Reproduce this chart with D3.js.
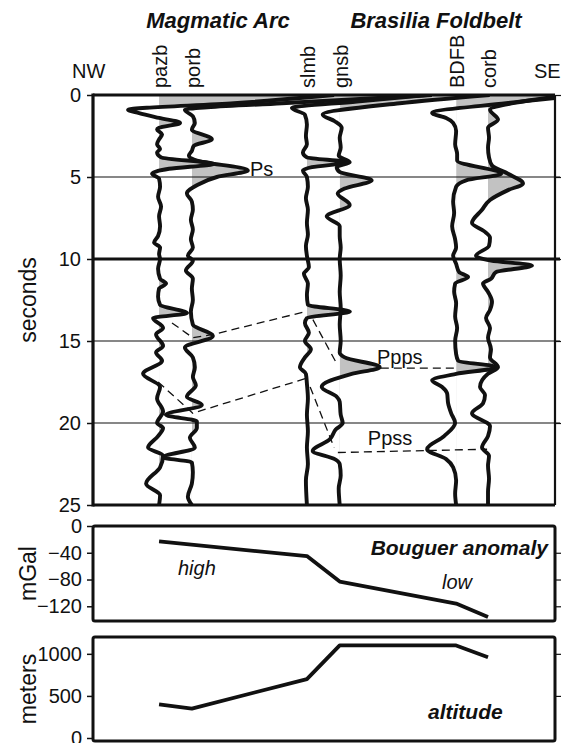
<!DOCTYPE html>
<html>
<head>
<meta charset="utf-8">
<script src="https://cdn.jsdelivr.net/npm/d3@7"></script>
<style>
  body { margin: 0; background: #fff; }
  svg { display: block; font-family: "Liberation Sans", Arial, Helvetica, sans-serif; }
</style>
</head>
<body>
<svg id="chart" width="567" height="743"></svg>
<script>
// ---- stations along the NW-SE profile ----
const stations = ["pazb", "porb", "slmb", "gnsb", "BDFB", "corb"];
const stationPos = [14.3, 21.4, 46.3, 53.4, 78.6, 85.5];   // position along profile (0-100)

// ---- receiver-function traces: [time (s), amplitude] ----
const pazbTrace = [
  [0,175],[0.5,75],[0.9,-31],[1.1,-20],[1.4,0],[1.7,21],[2.0,0],[2.1,-2],[2.4,3],[2.7,0],
  [3.0,-2],[3.3,1],[3.5,-2],[3.8,2],[4.2,55],[4.5,10],[4.8,-7],[5.1,0],[5.6,1],[6.2,-1],
  [6.8,2],[7.4,0],[8.0,1],[8.6,-1],[9.0,-5],[9.3,1],[9.7,0],[10.0,1],[10.6,-1],[11.2,1],
  [11.5,7],[11.8,0],[12.3,-1],[12.8,1],[13.3,28],[13.6,-6],[14.2,4],[14.6,-3],[15.3,4],[15.7,-3],
  [16.2,3],[17.0,-16],[17.8,1],[18.5,-2],[19.3,4],[20.0,-2],[20.3,4],[20.8,-1],[21.5,-11],[22.0,4],
  [22.7,1],[23.7,-13],[24.4,1],[25,0]
];
const porbTrace = [
  [0,240],[0.5,90],[0.9,-7],[1.3,1],[1.7,3],[2.1,0],[2.7,20],[3.1,2],[3.4,0],[3.7,-3],
  [4.0,5],[4.6,56],[5.0,25],[5.5,5],[6.0,-5],[6.5,0],[7.0,1],[7.6,-1],[8.2,1],[8.8,-1],
  [9.3,1],[9.8,-4],[10.1,1],[10.7,-6],[11.2,1],[11.8,0],[12.5,1],[13.2,-1],[14.0,1],[14.7,21],
  [15.4,-7],[16.0,1],[16.6,3],[17.2,1],[17.7,4],[18.4,-5],[18.9,10],[19.5,-26],[19.9,5],[20.3,5],
  [20.9,-2],[21.5,3],[22.1,-29],[22.4,0],[23.0,1],[23.7,0],[24.5,-4],[25,0]
];
const slmbTrace = [
  [0,120],[0.4,50],[0.8,-15],[1.2,-2],[1.8,0],[2.5,-1],[3.0,0],[3.5,-4],[3.8,0],[4.1,41],
  [4.4,5],[4.6,-4],[5.0,0],[5.6,1],[6.3,-1],[7.0,1],[7.8,0],[8.5,1],[9.2,-1],[9.8,0],
  [10.5,2],[10.9,-3],[11.5,1],[12.2,0],[12.8,1],[13.2,43],[13.6,0],[13.9,-2],[14.5,2],[15.0,-2],
  [15.5,4],[16.0,-2],[16.6,-7],[17.0,-1],[17.6,0],[18.5,1],[19.5,0],[20.5,1],[21.5,0],[22.5,1],
  [23.5,-1],[25,0]
];
const gnsbTrace = [
  [0,150],[0.5,60],[1.2,-17],[1.6,-5],[2.0,2],[2.6,0],[3.2,1],[3.7,-1],[4.1,10],[4.4,-3],
  [4.7,0],[5.2,32],[5.7,5],[6.0,-2],[6.7,10],[7.4,-13],[8.0,0],[8.6,0],[9.3,1],[10.0,0],
  [11.0,1],[12.0,0],[13.0,1],[14.0,0],[15.0,1],[15.7,0],[16.0,5],[16.6,40],[17.0,12],[17.8,-18],
  [18.4,-3],[18.7,0],[19.5,1],[20.0,3],[20.4,-4],[21.0,-10],[21.7,-27],[22.2,-5],[22.5,0],[23.2,1],
  [24.0,-1],[25,0]
];
const bdfbTrace = [
  [0,130],[0.5,50],[1.1,-24],[1.4,-10],[1.7,-3],[2.2,0],[3.0,-1],[3.6,1],[4.0,1],[4.8,45],
  [5.2,10],[5.6,0],[6.5,-3],[7.2,-2],[8.0,-4],[8.8,-1],[9.3,0],[9.8,-3],[10.3,0],[10.8,3],
  [11.1,12],[11.5,-1],[12.0,-2],[12.7,0],[13.5,-1],[14.2,1],[15.0,-1],[15.8,0],[16.2,2],[16.6,41],
  [17.0,0],[17.4,-24],[17.8,-14],[18.2,-9],[18.8,-8],[19.4,-5],[20.0,-1],[20.8,-12],[21.6,-29],[22.2,-10],
  [22.7,-3],[23.5,0],[24.3,-1],[25,0]
];
const corbTrace = [
  [0,80],[0.5,25],[0.9,2],[1.5,10],[2.0,0],[2.6,1],[3.2,0],[3.8,1],[4.3,4],[4.8,20],
  [5.4,35],[5.8,20],[6.4,2],[7.0,-6],[7.8,-16],[8.3,-4],[8.7,2],[9.2,1],[9.8,-12],[10.1,3],
  [10.4,44],[10.8,8],[11.2,3],[11.5,-5],[12.0,0],[12.6,4],[13.1,2],[13.6,-2],[14.2,2],[14.8,0],
  [15.5,3],[16.0,2],[16.6,10],[17.0,0],[17.8,-8],[18.3,-3],[18.8,-5],[19.4,-16],[20.2,2],[20.8,0],
  [21.5,-6],[22.0,1],[22.6,0],[23.4,1],[24.2,0],[25,0]
];
const traces = [pazbTrace, porbTrace, slmbTrace, gnsbTrace, bdfbTrace, corbTrace];

// ---- phase correlation lines: [profile position, time (s)] ----
const phaseLinePs1 = [[17.1,13.9],[21.6,14.8],[26.0,14.6],[46.1,13.2]];
const phaseLinePs2 = [[47.6,13.7],[52.6,16.3]];
const phaseLinePpps = [[62.3,16.65],[78.6,16.65]];
const phaseLineB1 = [[14.1,17.5],[21.6,19.4],[45.9,17.3]];
const phaseLineB2 = [[47.0,17.8],[52.2,21.5]];
const phaseLinePpss = [[53.0,21.8],[85.3,21.6]];
const phaseLines = [phaseLinePs1, phaseLinePs2, phaseLinePpps, phaseLineB1, phaseLineB2, phaseLinePpss];

const phaseLabels = ["Ps", "Ppps", "Ppss"];
const phaseLabelPos = [[36.5, 4.5], [66.4, 16.0], [64.3, 20.9]];

// ---- axes ----
const timeTicks = [0, 5, 10, 15, 20, 25];
const gridTimes = [5, 10, 15, 20];

// ---- gravity and topography along the same stations ----
const bouguerValues = [-23, null, -45, -83, -116, -136];
const bouguerTicks = [0, -40, -80, -120];
const altitudeValues = [400, 350, 700, 1100, 1100, 960];
const altitudeTicks = [0, 500, 1000];

// =====================================================================
const svg = d3.select("#chart");
const L = 93, R = 555, T = 95, B = 505;
const INK = "#111";

const x = d3.scaleLinear().domain([0, 100]).range([L, R]);
const amp = d3.scaleLinear().domain([-100, 100]).range([-100, 100]);
const yT = d3.scaleLinear().domain([0, 25]).range([T, B]);

const defs = svg.append("defs");
defs.append("clipPath").attr("id", "frame")
  .append("rect").attr("x", L).attr("y", T).attr("width", R - L).attr("height", B - T);

stations.forEach((s, i) => {
  defs.append("clipPath").attr("id", "pos-" + s)
    .append("rect").attr("x", x(stationPos[i])).attr("y", T)
    .attr("width", R - x(stationPos[i])).attr("height", B - T);
});

const plot = svg.append("g").attr("clip-path", "url(#frame)");

// positive lobes shaded grey
stations.forEach((s, i) => {
  const base = x(stationPos[i]);
  const area = d3.area()
    .y(d => yT(d[0]))
    .x0(base)
    .x1(d => base + amp(d[1]))
    .curve(d3.curveMonotoneY);
  plot.append("path")
    .attr("clip-path", "url(#pos-" + s + ")")
    .attr("d", area(traces[i]))
    .attr("fill", "#c2c2c2");
});

// time grid
gridTimes.forEach(t => {
  svg.append("line")
    .attr("x1", L).attr("x2", R + 5)
    .attr("y1", yT(t)).attr("y2", yT(t))
    .attr("stroke", INK)
    .attr("stroke-width", t === 10 ? 3 : 1.2);
});

// phase correlation lines
const dashLine = d3.line().x(d => x(d[0])).y(d => yT(d[1]));
phaseLines.forEach(pl => {
  plot.append("path").attr("d", dashLine(pl))
    .attr("fill", "none").attr("stroke", INK)
    .attr("stroke-width", 1.3).attr("stroke-dasharray", "8,5");
});

// traces
stations.forEach((s, i) => {
  const base = x(stationPos[i]);
  const line = d3.line()
    .y(d => yT(d[0]))
    .x(d => base + amp(d[1]))
    .curve(d3.curveMonotoneY);
  plot.append("path")
    .attr("d", line(traces[i]))
    .attr("fill", "none").attr("stroke", INK)
    .attr("stroke-width", 3.9).attr("stroke-linejoin", "round");
});

// frame
svg.append("line").attr("x1", L).attr("x2", L).attr("y1", T - 1.5).attr("y2", B + 1.5)
  .attr("stroke", INK).attr("stroke-width", 3.2);
svg.append("line").attr("x1", R).attr("x2", R).attr("y1", T).attr("y2", B)
  .attr("stroke", INK).attr("stroke-width", 2.2);
svg.append("line").attr("x1", L).attr("x2", R).attr("y1", T).attr("y2", T)
  .attr("stroke", INK).attr("stroke-width", 3);
svg.append("line").attr("x1", L).attr("x2", R).attr("y1", B).attr("y2", B)
  .attr("stroke", INK).attr("stroke-width", 3);

const leftAxis = d3.axisLeft(yT).tickValues(timeTicks).tickSize(6).tickPadding(6).tickFormat(d3.format("d"));
const ga = svg.append("g").attr("transform", `translate(${L},0)`).call(leftAxis);
ga.select(".domain").remove();
ga.selectAll(".tick line").attr("stroke", INK).attr("stroke-width", 1.5);
ga.selectAll(".tick text").attr("font-size", 20).attr("fill", INK)
  .attr("font-family", "Liberation Sans, Arial, sans-serif");

const rightAxis = d3.axisRight(yT).tickValues(timeTicks.slice(0, 5)).tickSize(6).tickFormat("");
const gr = svg.append("g").attr("transform", `translate(${R},0)`).call(rightAxis);
gr.select(".domain").remove();
gr.selectAll(".tick line").attr("stroke", INK).attr("stroke-width", 1.2);

// labels
svg.append("text").attr("x", 218).attr("y", 28).attr("text-anchor", "middle")
  .attr("font-size", 22).attr("font-weight", "bold").attr("font-style", "italic")
  .attr("fill", INK).text("Magmatic Arc");
svg.append("text").attr("x", 436).attr("y", 28).attr("text-anchor", "middle")
  .attr("font-size", 22).attr("font-weight", "bold").attr("font-style", "italic")
  .attr("fill", INK).text("Brasilia Foldbelt");
svg.append("text").attr("x", 72).attr("y", 78).attr("font-size", 20).attr("fill", INK).text("NW");
svg.append("text").attr("x", 534).attr("y", 78).attr("font-size", 20).attr("fill", INK).text("SE");

stations.forEach((s, i) => {
  const cx = x(stationPos[i]) + 1;
  svg.append("text")
    .attr("transform", `translate(${cx},88) rotate(-90)`)
    .attr("dy", "0.35em")
    .attr("font-size", 20).attr("fill", INK).text(s);
});

phaseLabels.forEach((p, i) => {
  svg.append("text")
    .attr("x", x(phaseLabelPos[i][0])).attr("y", yT(phaseLabelPos[i][1]))
    .attr("text-anchor", "middle").attr("dy", "0.35em")
    .attr("font-size", 20).attr("fill", INK).text(p);
});

svg.append("text").attr("transform", `translate(28,${(T + B) / 2}) rotate(-90)`)
  .attr("text-anchor", "middle").attr("dy", "0.35em")
  .attr("font-size", 23).attr("fill", INK).text("seconds");

// ---- Bouguer anomaly panel ----
const P1T = 526, P1B = 621;
const yB = d3.scaleLinear().domain([-142, 0]).range([P1B, P1T]);
svg.append("rect").attr("x", L).attr("y", P1T).attr("width", R - L).attr("height", P1B - P1T)
  .attr("rx", 2).attr("fill", "none").attr("stroke", INK).attr("stroke-width", 3);
const gB = svg.append("g").attr("transform", `translate(${L},0)`)
  .call(d3.axisLeft(yB).tickValues(bouguerTicks).tickSize(6).tickPadding(5).tickFormat(d3.format("d")));
gB.select(".domain").remove();
gB.selectAll(".tick line").attr("stroke", INK).attr("stroke-width", 1.5);
gB.selectAll(".tick text").attr("font-size", 20).attr("fill", INK)
  .attr("font-family", "Liberation Sans, Arial, sans-serif");
const gBr = svg.append("g").attr("transform", `translate(${R},0)`)
  .call(d3.axisRight(yB).tickValues(bouguerTicks.slice(1)).tickSize(6).tickFormat(""));
gBr.select(".domain").remove();
gBr.selectAll(".tick line").attr("stroke", INK).attr("stroke-width", 1.2);

const bouguerPts = stations.map((s, i) => [stationPos[i], bouguerValues[i]]).filter(d => d[1] !== null);
svg.append("path")
  .attr("d", d3.line().x(d => x(d[0])).y(d => yB(d[1]))(bouguerPts))
  .attr("fill", "none").attr("stroke", INK).attr("stroke-width", 3.8).attr("stroke-linejoin", "round");

svg.append("text").attr("x", 548).attr("y", 555).attr("text-anchor", "end")
  .attr("font-size", 21).attr("font-weight", "bold").attr("font-style", "italic")
  .attr("fill", INK).text("Bouguer anomaly");
svg.append("text").attr("x", 178).attr("y", 575).attr("font-size", 20).attr("font-style", "italic")
  .attr("fill", INK).text("high");
svg.append("text").attr("x", 442).attr("y", 589).attr("font-size", 20).attr("font-style", "italic")
  .attr("fill", INK).text("low");
svg.append("text").attr("transform", `translate(28,${(P1T + P1B) / 2}) rotate(-90)`)
  .attr("text-anchor", "middle").attr("dy", "0.35em")
  .attr("font-size", 23).attr("fill", INK).text("mGal");

// ---- altitude panel ----
const P2T = 637, P2B = 741;
const yA = d3.scaleLinear().domain([0, 1200]).range([738, P2T]);
svg.append("rect").attr("x", L).attr("y", P2T).attr("width", R - L).attr("height", P2B - P2T)
  .attr("rx", 2).attr("fill", "none").attr("stroke", INK).attr("stroke-width", 3);
const gA = svg.append("g").attr("transform", `translate(${L},0)`)
  .call(d3.axisLeft(yA).tickValues(altitudeTicks).tickSize(6).tickPadding(5).tickFormat(d3.format("d")));
gA.select(".domain").remove();
gA.selectAll(".tick line").attr("stroke", INK).attr("stroke-width", 1.5);
gA.selectAll(".tick text").attr("font-size", 20).attr("fill", INK)
  .attr("font-family", "Liberation Sans, Arial, sans-serif");
const gAr = svg.append("g").attr("transform", `translate(${R},0)`)
  .call(d3.axisRight(yA).tickValues(altitudeTicks.slice(1)).tickSize(6).tickFormat(""));
gAr.select(".domain").remove();
gAr.selectAll(".tick line").attr("stroke", INK).attr("stroke-width", 1.2);

const altitudePts = stations.map((s, i) => [stationPos[i], altitudeValues[i]]);
svg.append("path")
  .attr("d", d3.line().x(d => x(d[0])).y(d => yA(d[1]))(altitudePts))
  .attr("fill", "none").attr("stroke", INK).attr("stroke-width", 3.8).attr("stroke-linejoin", "round");

svg.append("text").attr("x", 428).attr("y", 719)
  .attr("font-size", 21).attr("font-weight", "bold").attr("font-style", "italic")
  .attr("fill", INK).text("altitude");
svg.append("text").attr("transform", `translate(28,${(P2T + P2B) / 2}) rotate(-90)`)
  .attr("text-anchor", "middle").attr("dy", "0.35em")
  .attr("font-size", 23).attr("fill", INK).text("meters");
</script>
</body>
</html>
